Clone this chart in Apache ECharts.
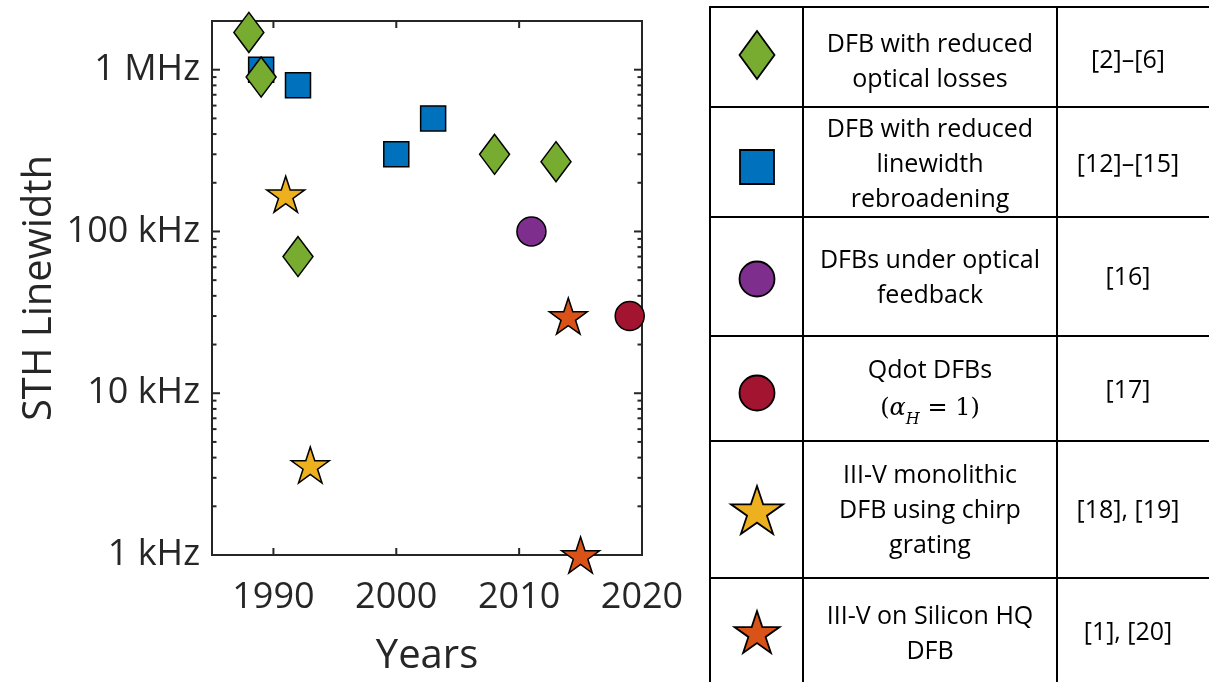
<!DOCTYPE html>
<html><head><meta charset="utf-8">
<script src="https://cdn.jsdelivr.net/npm/echarts@6/dist/echarts.min.js"></script>
<style>html,body{margin:0;padding:0;background:#fff}#c{width:1209px;height:682px}</style>
</head><body><div id="c"></div><script>
// ---- data ----
const seriesNames = ['DFB with reduced\noptical losses', 'DFB with reduced\nlinewidth\nrebroadening', 'DFBs under optical\nfeedback', 'Qdot DFBs', 'III-V monolithic\nDFB using chirp\ngrating', 'III-V on Silicon HQ\nDFB'];
const seriesRefs = ['[2]–[6]', '[12]–[15]', '[16]', '[17]', '[18], [19]', '[1], [20]'];
const greenYears = [1988, 1989, 1992, 2008, 2013];
const greenValues = [1.7e6, 9e5, 7e4, 3e5, 2.7e5];
const blueYears = [1989, 1992, 2000, 2003];
const blueValues = [1e6, 8e5, 3e5, 5e5];
const purpleYears = [2011];
const purpleValues = [1e5];
const redYears = [2019];
const redValues = [3e4];
const yellowYears = [1991, 1993];
const yellowValues = [1.7e5, 3.6e3];
const orangeYears = [2014, 2015];
const orangeValues = [3e4, 1e3];
const xTickYears = [1990, 2000, 2010];
const yMajorTicks = [1e3, 1e4, 1e5, 1e6];
const yTickLabels = ['1 kHz', '10 kHz', '100 kHz', '1 MHz'];
const yMinorTicks = [2e3,3e3,4e3,5e3,6e3,7e3,8e3,9e3,2e4,3e4,4e4,5e4,6e4,7e4,8e4,9e4,2e5,3e5,4e5,5e5,6e5,7e5,8e5,9e5];

// ---- styles ----
const X_MIN = 1985, X_MAX = 2020, Y_MIN = 1e3, Y_MAX = 2e6;
const COLORS = ['#77AC30', '#0072BD', '#7E2F8E', '#A2142F', '#EDB120', '#D95319'];
const STAR = 'path://M50 0L61.23 34.55L97.55 34.55L68.16 55.9L79.39 90.45L50 69.1L20.61 90.45L31.84 55.9L2.45 34.55L38.77 34.55Z';
// star outline, unit box (x,y in 0..1)
const STAR_UNIT = [[0.5,0],[0.618,0.382],[1,0.382],[0.691,0.618],[0.809,1],[0.5,0.764],[0.191,1],[0.309,0.618],[0,0.382],[0.382,0.382]];
const AX = '#262626';
const FONT = '"Open Sans", "Noto Sans", sans-serif';
const TFS = 25;

function pts(xs, ys) { return xs.map((x, i) => [x, ys[i]]); }
function scatter(name, data, symbol, size, color) {
  return { name, type: 'scatter', data, symbol, symbolSize: size, clip: false, z: 10,
    itemStyle: { color, borderColor: '#000', borderWidth: 1.5, opacity: 1 },
    emphasis: { disabled: true } };
}

const chart = echarts.init(document.getElementById('c'), null, { renderer: 'canvas' });

// ---- table graphic ----
const colX = [710, 803, 1057, 1216];
const rowY = [7, 107, 217, 336, 441, 578, 690];
const symCx = 757;
const symCy = [55, 167, 279, 393, 510, 632];
const textCy = [62, 165, 278, 390, 511, 634];
const refCy = [61, 165, 278, 391, 511, 633];
const graphics = [];
colX.forEach(x => graphics.push({ type: 'line', shape: { x1: x, y1: rowY[0] - 1, x2: x, y2: rowY[rowY.length - 1] }, style: { stroke: '#000', lineWidth: 2 } }));
rowY.forEach(y => graphics.push({ type: 'line', shape: { x1: colX[0] - 1, y1: y, x2: colX[colX.length - 1], y2: y }, style: { stroke: '#000', lineWidth: 2 } }));
const symStyle = c => ({ fill: c, stroke: '#000', lineWidth: 1.8 });
function starPoly(cx, cy, w, h) { return STAR_UNIT.map(p => [cx - w / 2 + p[0] * w, cy - h / 2 + p[1] * h]); }
graphics.push({ type: 'polygon', shape: { points: [[symCx, symCy[0] - 24], [symCx + 17.5, symCy[0]], [symCx, symCy[0] + 24], [symCx - 17.5, symCy[0]]] }, style: symStyle(COLORS[0]) });
graphics.push({ type: 'rect', shape: { x: symCx - 17, y: symCy[1] - 17, width: 34, height: 34 }, style: symStyle(COLORS[1]) });
graphics.push({ type: 'circle', shape: { cx: symCx, cy: symCy[2], r: 17.5 }, style: symStyle(COLORS[2]) });
graphics.push({ type: 'circle', shape: { cx: symCx, cy: symCy[3], r: 17.5 }, style: symStyle(COLORS[3]) });
graphics.push({ type: 'polygon', shape: { points: starPoly(symCx, symCy[4], 52, 48) }, style: symStyle(COLORS[4]) });
graphics.push({ type: 'polygon', shape: { points: starPoly(symCx, symCy[5], 45, 42) }, style: symStyle(COLORS[5]) });
seriesNames.forEach((t, i) => {
  if (i === 3) {
    graphics.push({ type: 'text', x: (colX[1] + colX[2]) / 2, y: textCy[i], style: {
      text: 'Qdot DFBs\n{n|(}{m|α}{s|H}{n| = 1)}', fill: '#000', font: TFS + 'px ' + FONT, align: 'center', verticalAlign: 'middle', lineHeight: 38,
      rich: { n: { fontSize: 24, fontFamily: '"DejaVu Serif", serif', fill: '#000', lineHeight: 38 },
              m: { fontSize: 24, fontFamily: '"DejaVu Serif", serif', fontStyle: 'italic', fill: '#000', lineHeight: 38 },
              s: { fontSize: 16, fontFamily: '"DejaVu Serif", serif', fontStyle: 'italic', fill: '#000', verticalAlign: 'bottom', lineHeight: 30 } } } });
  } else {
    graphics.push({ type: 'text', x: (colX[1] + colX[2]) / 2, y: textCy[i], style: { text: t, fill: '#000', font: TFS + 'px ' + FONT, align: 'center', verticalAlign: 'middle', lineHeight: 35 } });
  }
  graphics.push({ type: 'text', x: 1128, y: refCy[i], style: { text: seriesRefs[i], fill: '#000', font: TFS + 'px ' + FONT, align: 'center', verticalAlign: 'middle' } });
});

const option = {
  animation: false,
  backgroundColor: '#fff',
  grid: { left: 212, top: 21, width: 430, height: 538, show: true, borderColor: AX, borderWidth: 2, backgroundColor: 'transparent' },
  xAxis: {
    type: 'value', min: X_MIN, max: X_MAX, interval: 5,
    axisLine: { show: false }, axisTick: { show: false }, splitLine: { show: false },
    axisLabel: { color: AX, fontSize: 36, fontFamily: FONT, margin: 25, showMinLabel: true, showMaxLabel: true,
      formatter: v => (v % 10 === 0 ? String(v) : '') },
    name: 'Years', nameLocation: 'middle', nameGap: 82, nameTextStyle: { color: AX, fontSize: 40, fontFamily: FONT }
  },
  yAxis: {
    type: 'log', logBase: 10, min: Y_MIN, max: Y_MAX,
    axisLine: { show: false }, axisTick: { show: false }, splitLine: { show: false }, minorTick: { show: false },
    axisLabel: { color: AX, fontSize: 36, fontFamily: FONT, margin: 12,
      formatter: v => { const i = yMajorTicks.findIndex(t => Math.abs(t - v) / t < 1e-6); return i >= 0 ? yTickLabels[i] : ''; } },
    name: 'STH Linewidth', nameLocation: 'middle', nameGap: 152, nameRotate: 90, nameTextStyle: { color: AX, fontSize: 40, fontFamily: FONT }
  },
  graphic: graphics,
  series: [
    { type: 'custom', coordinateSystem: 'cartesian2d', silent: true, clip: false, z: 3,
      data: yMajorTicks.map(v => [X_MIN, v, 8]).concat(yMinorTicks.map(v => [X_MIN, v, 4.5])),
      renderItem: (params, api) => {
        const cs = params.coordSys; const y = api.coord([api.value(0), api.value(1)])[1]; const L = api.value(2);
        const st = { stroke: AX, lineWidth: 2 };
        return { type: 'group', children: [
          { type: 'line', shape: { x1: cs.x, y1: y, x2: cs.x + L, y2: y }, style: st },
          { type: 'line', shape: { x1: cs.x + cs.width - L, y1: y, x2: cs.x + cs.width, y2: y }, style: st } ] };
      } },
    { type: 'custom', coordinateSystem: 'cartesian2d', silent: true, clip: false, z: 3,
      data: xTickYears.map(x => [x, Y_MIN, 7]),
      renderItem: (params, api) => {
        const cs = params.coordSys; const x = api.coord([api.value(0), api.value(1)])[0]; const L = api.value(2);
        const st = { stroke: AX, lineWidth: 2 };
        return { type: 'group', children: [
          { type: 'line', shape: { x1: x, y1: cs.y + cs.height, x2: x, y2: cs.y + cs.height - L }, style: st },
          { type: 'line', shape: { x1: x, y1: cs.y, x2: x, y2: cs.y + L }, style: st } ] };
      } },
    scatter(seriesNames[1], pts(blueYears, blueValues), 'rect', 25, COLORS[1]),
    scatter(seriesNames[0], pts(greenYears, greenValues), 'diamond', [30, 40], COLORS[0]),
    scatter(seriesNames[2], pts(purpleYears, purpleValues), 'circle', 29, COLORS[2]),
    scatter(seriesNames[3], pts(redYears, redValues), 'circle', 29, COLORS[3]),
    scatter(seriesNames[4], pts(yellowYears, yellowValues), STAR, [38, 36], COLORS[4]),
    scatter(seriesNames[5], pts(orangeYears, orangeValues), STAR, [38, 36], COLORS[5])
  ]
};
chart.setOption(option);
</script></body></html>
